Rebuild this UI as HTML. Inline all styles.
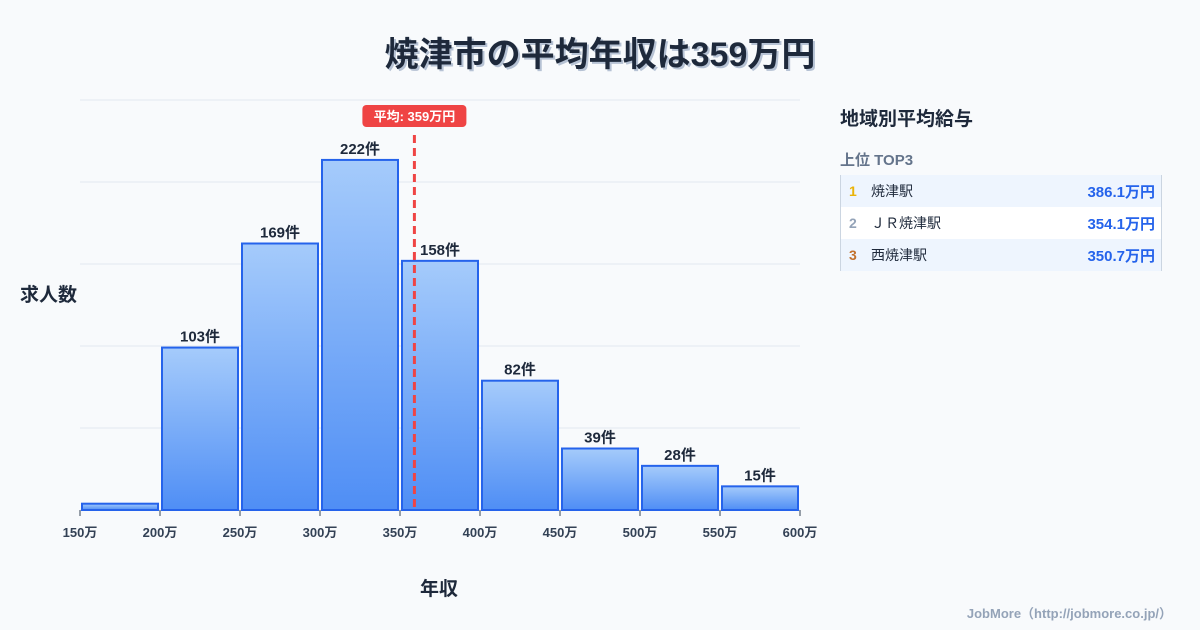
<!DOCTYPE html>
<html><head><meta charset="utf-8">
<style>
body{margin:0;width:1200px;height:630px;background:#f8fafc;font-family:"Liberation Sans","Noto Sans CJK JP",sans-serif;overflow:hidden;position:relative;color:#1e293b}
.abs{position:absolute}
</style></head><body>
<div class="abs" style="left:0;width:1200px;top:27px;text-align:center;font-size:34px;font-weight:bold;color:#1e293b;text-shadow:2px 2px 0 #b6c2d4">焼津市の平均年収は359万円</div>
<svg class="abs" style="left:0;top:0" width="830" height="630" id="chart"></svg>
<div class="abs" style="left:20px;top:280px;font-size:19px;font-weight:bold">求人数</div>
<div class="abs" style="left:420px;top:574px;font-size:19px;font-weight:bold">年収</div>
<div class="abs" style="left:840px;top:104px;font-size:19px;font-weight:bold">地域別平均給与</div>
<div class="abs" style="left:840px;top:149px;font-size:15px;font-weight:bold;color:#64748b">上位 TOP3</div>
<div class="abs" style="left:840px;top:175px;width:320px;border-left:1px solid #cbd5e1;border-right:1px solid #cbd5e1;font-size:14px">
 <div style="height:32px;background:#eef5fe;display:flex;align-items:center;position:relative"><span style="color:#eab308;font-weight:bold;margin-left:8px;width:22px">1</span><span>焼津駅</span><span style="position:absolute;right:6px;color:#2563eb;font-weight:bold;font-size:15px">386.1万円</span></div>
 <div style="height:32px;background:#fff;display:flex;align-items:center;position:relative"><span style="color:#94a3b8;font-weight:bold;margin-left:8px;width:22px">2</span><span>ＪＲ焼津駅</span><span style="position:absolute;right:6px;color:#2563eb;font-weight:bold;font-size:15px">354.1万円</span></div>
 <div style="height:32px;background:#eef5fe;display:flex;align-items:center;position:relative"><span style="color:#c2712d;font-weight:bold;margin-left:8px;width:22px">3</span><span>西焼津駅</span><span style="position:absolute;right:6px;color:#2563eb;font-weight:bold;font-size:15px">350.7万円</span></div>
</div>
<div class="abs" style="right:28px;top:603px;font-size:13px;font-weight:bold;color:#94a3b8">JobMore（http://jobmore.co.jp/）</div>
<script>
const binStarts=[150,200,250,300,350,400,450,500,550];
const counts=[4,103,169,222,158,82,39,28,15];
const labels=["","103件","169件","222件","158件","82件","39件","28件","15件"];
const xTicks=[150,200,250,300,350,400,450,500,550,600];
const meanValue=359;
const yMax=260;
const NS="http://www.w3.org/2000/svg";
const svg=document.getElementById('chart');
const x=v=>80+(v-150)*720/450;
const y=v=>510-v*410/yMax;
function mk(t,a){const e=document.createElementNS(NS,t);for(const k in a)e.setAttribute(k,a[k]);svg.appendChild(e);return e;}
const defs=mk('defs',{});
defs.innerHTML='<linearGradient id="g" x1="0" y1="0" x2="0" y2="1"><stop offset="0" stop-color="#a5cbfb"/><stop offset="1" stop-color="#4f8ef5"/></linearGradient>';
for(let i=0;i<=5;i++){const gy=510-i*82;const l=mk('line',{x1:80,x2:800,y1:gy,y2:gy,stroke:'#e2e8f0','stroke-width':1});
}
binStarts.forEach((b,i)=>{
 const x0=x(b)+2,x1=x(b+50)-2,top=y(counts[i]);
 const r=mk('rect',{x:x0,y:top,width:x1-x0,height:510-top,fill:'url(#g)',stroke:'#2563eb','stroke-width':2});
 
 if(labels[i]){const t=mk('text',{x:(x0+x1)/2,y:top-6,'text-anchor':'middle','font-size':15,'font-weight':'bold',fill:'#1e293b'});t.textContent=labels[i];
 }
});
xTicks.forEach(v=>{const l=mk('line',{x1:x(v),x2:x(v),y1:510,y2:516,stroke:'#334155','stroke-width':1});

const t=mk('text',{x:x(v),y:537,'text-anchor':'middle','font-size':13,'font-weight':'bold',fill:'#334155'});t.textContent=v+'万';
});
const mx=x(meanValue);
const ml=mk('line',{x1:mx,x2:mx,y1:135,y2:510,stroke:'#ef4444','stroke-width':3,'stroke-dasharray':'8,5'});

const mb=mk('rect',{x:mx-52,y:105,width:104,height:22,rx:4,fill:'#ef4444'});

const mt=mk('text',{x:mx,y:121,'text-anchor':'middle','font-size':13,'font-weight':'bold',fill:'#fff'});mt.textContent='平均: '+meanValue+'万円';

</script>
</body></html>
